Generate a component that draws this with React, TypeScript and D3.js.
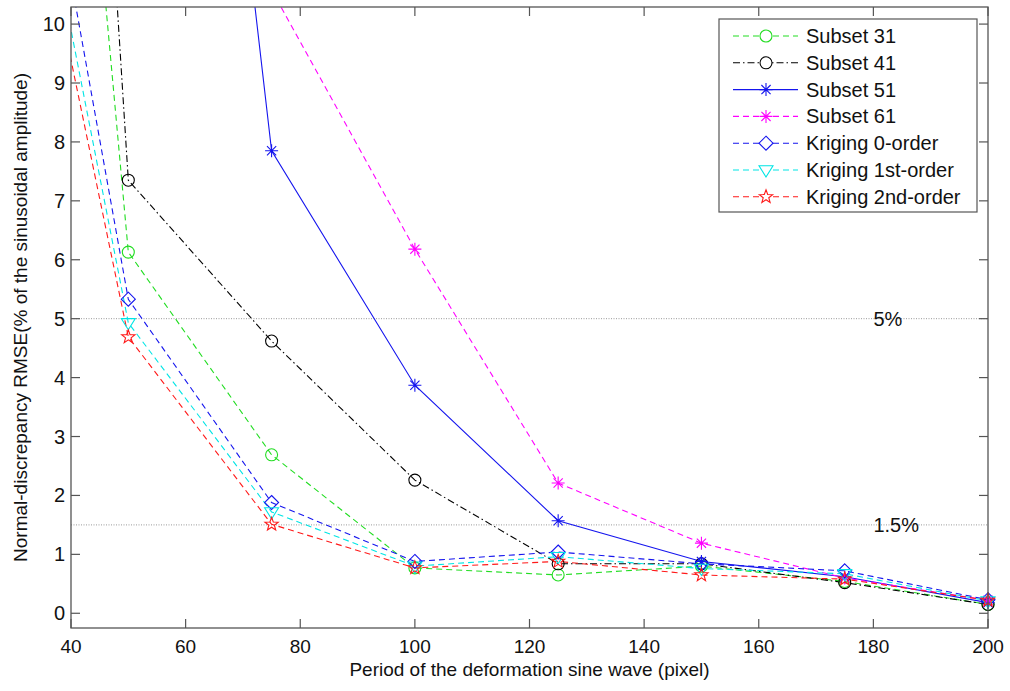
import React from "react";
import * as d3 from "d3";

const periods = [25, 50, 75, 100, 125, 150, 175, 200];
const subset31 = [32.8, 6.13, 2.69, 0.77, 0.65, 0.8, 0.54, 0.15];
const subset41 = [45.6, 7.35, 4.62, 2.26, 0.84, 0.84, 0.52, 0.15];
const subset51 = [null, 28.9, 7.85, 3.87, 1.57, 0.88, 0.62, 0.18];
const subset61 = [null, null, 10.58, 6.18, 2.21, 1.19, 0.6, 0.22];
const kriging0 = [18.9, 5.33, 1.88, 0.88, 1.04, 0.84, 0.72, 0.23];
const kriging1 = [17.36, 4.93, 1.72, 0.8, 0.96, 0.76, 0.67, 0.21];
const kriging2 = [16.44, 4.69, 1.51, 0.77, 0.88, 0.65, 0.58, 0.22];

const seriesNames = [
  "Subset 31",
  "Subset 41",
  "Subset 51",
  "Subset 61",
  "Kriging 0-order",
  "Kriging 1st-order",
  "Kriging 2nd-order",
];
const seriesValues = [subset31, subset41, subset51, subset61, kriging0, kriging1, kriging2];
const seriesColors = ["#22dd22", "#000000", "#1515ee", "#ff00ff", "#1515ee", "#00e5e5", "#ff1a1a"];
const seriesDash = ["6,4", "7,3,1.5,3", null, "6,4", "6,4", "6,4", "6,4"];
const seriesMarker = ["circle", "circle", "asterisk", "asterisk", "diamond", "triangle", "star"];

const xTicks = [40, 60, 80, 100, 120, 140, 160, 180, 200];
const yTicks = [0, 1, 2, 3, 4, 5, 6, 7, 8, 9, 10];
const refLines = [
  { value: 5, label: "5%" },
  { value: 1.5, label: "1.5%" },
];
const refLabelX = 180;
const xLabel = "Period of the deformation sine wave (pixel)";
const yLabel = "Normal-discrepancy RMSE(% of the sinusoidal amplitude)";

const W = 1010;
const H = 691;
const L = 71;
const R = 988;
const T = 7;
const B = 628;
const XMIN = 40;
const XMAX = 200;
const YMIN = -0.25;
const YMAX = 10.29;
const FONT = "'Liberation Sans', Arial, Helvetica, sans-serif";
const AXIS = "#555555";

function markerPath(kind: string): string {
  if (kind === "circle") {
    const r = 6;
    return `M${-r},0A${r},${r} 0 1,0 ${r},0A${r},${r} 0 1,0 ${-r},0Z`;
  }
  if (kind === "asterisk") {
    const a = 6.5;
    const b = 4.6;
    return `M${-a},0L${a},0M0,${-a}L0,${a}M${-b},${-b}L${b},${b}M${-b},${b}L${b},${-b}`;
  }
  if (kind === "diamond") {
    const a = 7;
    return `M0,${-a}L${a},0L0,${a}L${-a},0Z`;
  }
  if (kind === "triangle") {
    const a = 7;
    return `M${-a},${-a * 0.6}L${a},${-a * 0.6}L0,${a}Z`;
  }
  const pts: string[] = [];
  for (let i = 0; i < 10; i++) {
    const rr = i % 2 === 0 ? 7 : 2.9;
    const ang = -Math.PI / 2 + (i * Math.PI) / 5;
    pts.push(`${(rr * Math.cos(ang)).toFixed(2)},${(rr * Math.sin(ang)).toFixed(2)}`);
  }
  return "M" + pts.join("L") + "Z";
}

export default function App() {
  const x = d3.scaleLinear().domain([XMIN, XMAX]).range([L, R]);
  const y = d3.scaleLinear().domain([YMIN, YMAX]).range([B, T]);

  const line = d3
    .line<[number, number | null]>()
    .defined((d) => d[1] !== null)
    .x((d) => x(d[0]))
    .y((d) => y(d[1] as number));

  const legendX = 719;
  const legendY = 19;
  const legendW = 258;
  const legendH = 193;
  const rowY = (i: number) => 36 + i * 26.8;

  return (
    <svg
      width={W}
      height={H}
      style={{ position: "absolute", left: 0, top: 0, background: "#fff" }}
      fontFamily={FONT}
    >
      <defs>
        <clipPath id="plotClip">
          <rect x={L} y={T} width={R - L} height={B - T} />
        </clipPath>
      </defs>
      <rect x={0} y={0} width={W} height={H} fill="#fff" />

      {refLines.map((r) => (
        <g key={r.label}>
          <line
            x1={L}
            x2={R}
            y1={y(r.value)}
            y2={y(r.value)}
            stroke="#9a9a9a"
            strokeWidth={1}
            strokeDasharray="1,1.5"
          />
          <text x={x(refLabelX)} y={y(r.value)} dy="0.35em" fontSize={20} fill="#111">
            {r.label}
          </text>
        </g>
      ))}

      <g clipPath="url(#plotClip)">
        {seriesValues.map((vals, i) => (
          <path
            key={seriesNames[i]}
            d={line(periods.map((p, j) => [p, vals[j]] as [number, number | null])) || ""}
            fill="none"
            stroke={seriesColors[i]}
            strokeWidth={1.1}
            strokeDasharray={seriesDash[i] || undefined}
          />
        ))}
      </g>

      {seriesValues.map((vals, i) => (
        <g key={"m" + seriesNames[i]}>
          {periods.map((p, j) => {
            const v = vals[j];
            if (v === null || v > YMAX || p < XMIN) return null;
            return (
              <path
                key={j}
                transform={`translate(${x(p)},${y(v)})`}
                d={markerPath(seriesMarker[i])}
                fill="none"
                stroke={seriesColors[i]}
                strokeWidth={1.1}
              />
            );
          })}
        </g>
      ))}

      <rect x={L} y={T} width={R - L} height={B - T} fill="none" stroke={AXIS} strokeWidth={1.3} />

      {xTicks.map((t) => (
        <g key={"x" + t}>
          <line x1={x(t)} x2={x(t)} y1={B} y2={B - 9} stroke={AXIS} strokeWidth={1.2} />
          <line x1={x(t)} x2={x(t)} y1={T} y2={T + 9} stroke={AXIS} strokeWidth={1.2} />
          <text x={x(t)} y={653} textAnchor="middle" fontSize={19} fill="#111">
            {t}
          </text>
        </g>
      ))}

      {yTicks.map((t) => (
        <g key={"y" + t}>
          <line x1={L} x2={L + 9} y1={y(t)} y2={y(t)} stroke={AXIS} strokeWidth={1.2} />
          <line x1={R} x2={R - 9} y1={y(t)} y2={y(t)} stroke={AXIS} strokeWidth={1.2} />
          <text x={65} y={y(t)} dy="0.35em" textAnchor="end" fontSize={20} fill="#111">
            {t}
          </text>
        </g>
      ))}

      <text x={(L + R) / 2} y={676} textAnchor="middle" fontSize={19} fill="#111">
        {xLabel}
      </text>
      <text
        transform={`translate(27,${(T + B) / 2}) rotate(-90)`}
        textAnchor="middle"
        fontSize={19}
        fill="#111"
      >
        {yLabel}
      </text>

      <rect x={legendX} y={legendY} width={legendW} height={legendH} fill="#fff" stroke={AXIS} strokeWidth={1.2} />
      {seriesNames.map((name, i) => (
        <g key={"l" + name}>
          <line
            x1={733}
            x2={798}
            y1={rowY(i)}
            y2={rowY(i)}
            stroke={seriesColors[i]}
            strokeWidth={1.1}
            strokeDasharray={seriesDash[i] || undefined}
          />
          <path
            transform={`translate(766,${rowY(i)})`}
            d={markerPath(seriesMarker[i])}
            fill={seriesMarker[i] === "asterisk" ? "none" : "#fff"}
            stroke={seriesColors[i]}
            strokeWidth={1.1}
          />
          <text x={806} y={rowY(i)} dy="0.35em" fontSize={20} fill="#111">
            {name}
          </text>
        </g>
      ))}
    </svg>
  );
}
